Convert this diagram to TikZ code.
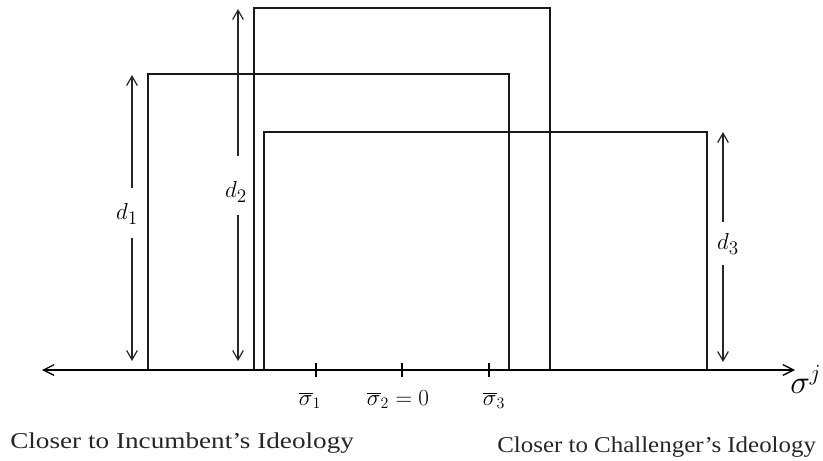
\documentclass[tikz,border=0pt]{standalone}
\usepackage{fontspec}
\setmainfont{Liberation Serif}
\usetikzlibrary{arrows.meta}
\begin{document}
\begin{tikzpicture}[x=0.75pt,y=-0.75pt,
  box/.style={draw=black!90, line width=0.9pt},
  dim/.style={-{Straight Barb[length=7pt,width=8pt]}, line width=0.9pt, draw=black!85},
  tickmark/.style={line width=1.3pt},
  dlab/.style={inner sep=0pt, font=\fontsize{19}{21}\selectfont},
  tlab/.style={inner sep=0pt, anchor=base, font=\fontsize{17}{19}\selectfont},
  captxt/.style={inner sep=0pt, anchor=base west, text=black!85}
]
\useasboundingbox (0,0) rectangle (823,460);
% rectangles
\draw[box] (148,370) rectangle (509,74);
\draw[box] (254,370) rectangle (550,8);
\draw[box] (264,370) rectangle (707,132);
% axis
\coordinate (axL) at (42,370);
\coordinate (axR) at (795,370);
\draw[{Straight Barb[length=8pt,width=8pt]}-{Straight Barb[length=8pt,width=8pt]}, line width=1pt] (axL) -- (axR);
% ticks
\draw[tickmark] (316,363) -- (316,377);
\draw[tickmark] (402,363) -- (402,377);
\draw[tickmark] (489,363) -- (489,377);
% dimension arrows
\coordinate (d1t) at (132,75);
\coordinate (d1b) at (132,361);
\coordinate (d1g1) at (132,188);
\coordinate (d1g2) at (132,238);
\node[dlab] (d1) at (127,214) {$d_1$};
\draw[dim] (d1g1) -- (d1t);
\draw[dim] (d1g2) -- (d1b);
\coordinate (d2t) at (238,9);
\coordinate (d2b) at (238,361);
\coordinate (d2g1) at (238,156);
\coordinate (d2g2) at (238,215);
\node[dlab] (d2) at (236,192) {$d_2$};
\draw[dim] (d2g1) -- (d2t);
\draw[dim] (d2g2) -- (d2b);
\coordinate (d3t) at (723,132);
\coordinate (d3b) at (723,362);
\coordinate (d3g1) at (723,222);
\coordinate (d3g2) at (723,265);
\node[dlab] (d3) at (728,244) {$d_3$};
\draw[dim] (d3g1) -- (d3t);
\draw[dim] (d3g2) -- (d3b);
% tick labels
\node[tlab] (s1) at (310,405) {$\overline{\sigma}_{1}$};
\node[tlab] (s2) at (398,405) {$\overline{\sigma}_{2}=0$};
\node[tlab] (s3) at (494,405) {$\overline{\sigma}_{3}$};
\node[inner sep=0pt, anchor=base west, font=\fontsize{24}{26}\selectfont] (sj) at (790,393) {$\sigma^{j}$};
% captions
\node[captxt, font=\fontsize{17}{20}\selectfont\addfontfeature{FakeStretch=1.2}] (ci) at (10,448) {Closer to Incumbent’s Ideology};
\node[captxt, font=\fontsize{17}{20}\selectfont\addfontfeature{FakeStretch=1.1}] (cc) at (497,452) {Closer to Challenger’s Ideology};
\end{tikzpicture}
\end{document}
